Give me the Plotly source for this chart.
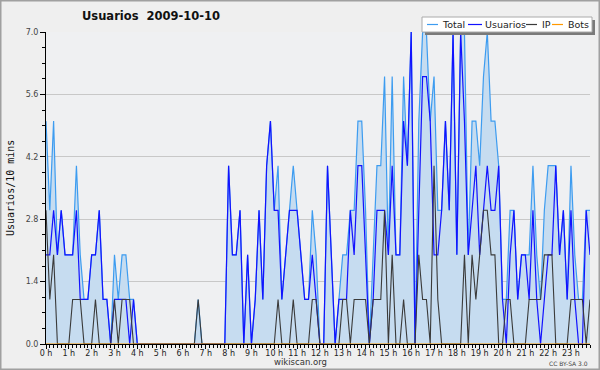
import plotly.graph_objects as go

# ---- data (users per 10 minutes, 2009-10-10) ----
total = [5,3,5,2,3,2,2,2,4,2,1,1,2,2,3,1,1,0,2,1,2,2,1,1,0,
         0,0,0,0,0,0,0,0,0,0,0,0,0,0,0,1,0,0,0,0,0,0,0,
         4,2,2,3,0,2,0,1,3,1,4,5,3,4,1,2,3,4,3,2,1,1,3,2,
         0,0,4,2,0,1,2,2,3,3,5,5,3,0,2,4,4,6,2,6,2,2,6,4,
         7,0,5,7,7,5,6,3,3,5,3,7,2,7,7,2,5,5,4,6,7,5,5,4,
         1,1,3,3,1,2,2,2,4,2,1,3,4,4,4,2,3,1,4,2,1,1,3,3]
usuarios = [2,2,3,2,3,2,2,2,3,1,1,1,2,2,3,1,1,0,1,1,1,1,0,1,0,
            0,0,0,0,0,0,0,0,0,0,0,0,0,0,0,0,0,0,0,0,0,0,0,
            4,2,2,3,0,2,0,1,3,1,4,5,3,3,1,2,3,3,3,2,1,1,2,1,
            0,0,4,2,0,1,1,1,3,2,4,4,2,0,1,3,3,3,2,4,2,2,5,4,
            7,0,3,6,6,5,2,2,3,5,3,7,2,7,5,2,3,4,2,3,4,3,3,4,
            1,0,2,3,1,2,2,1,3,1,0,1,2,2,4,2,3,1,3,1,0,0,3,2]
ip = [3,1,2,0,0,0,0,1,1,1,0,0,0,1,0,0,0,0,1,0,1,1,1,0,0,
      0,0,0,0,0,0,0,0,0,0,0,0,0,0,0,1,0,0,0,0,0,0,0,
      0,0,0,0,0,0,0,0,0,0,0,0,0,1,0,0,0,1,0,0,0,0,1,1,
      0,0,0,0,0,0,1,1,0,1,1,1,1,0,1,1,1,3,0,2,0,0,1,0,
      0,0,2,1,1,0,4,1,0,0,0,0,0,0,2,0,2,1,2,3,3,2,2,0,
      0,1,1,0,0,0,0,1,1,1,1,2,2,2,0,0,0,0,1,1,1,1,0,1]
bots = [0] * 144
hour_labels = ["0 h","1 h","2 h","3 h","4 h","5 h","6 h","7 h","8 h","9 h","10 h","11 h",
               "12 h","13 h","14 h","15 h","16 h","17 h","18 h","19 h","20 h","21 h","22 h","23 h"]
y_ticks = [0.0, 1.4, 2.8, 4.2, 5.6, 7.0]

x = list(range(len(total)))
hour_pos = [i * 6 for i in range(len(hour_labels))]

# ---- geometry helpers (pixel -> paper) ----
L, R, T, B = 46, 10, 32, 26
W, H = 600, 370
PW, PH = W - L - R, H - T - B
def px(v):
    return (v - L) / PW
def py(v):
    return (H - B - v) / PH

fig = go.Figure()
fig.add_trace(go.Scatter(x=x, y=total, name="Total", mode="lines",
                         line=dict(color="#3d9cf0", width=1.2),
                         fill="tozeroy", fillcolor="#c6dcf0"))
fig.add_trace(go.Scatter(x=x, y=usuarios, name="Usuarios", mode="lines",
                         line=dict(color="#1212ff", width=1.2)))
fig.add_trace(go.Scatter(x=x, y=ip, name="IP", mode="lines",
                         line=dict(color="#3a3a3a", width=1.1)))
fig.add_trace(go.Scatter(x=x, y=bots, name="Bots", mode="lines",
                         line=dict(color="#ff9900", width=1.1)))

fig.update_layout(
    width=W, height=H,
    margin=dict(l=L, r=R, t=T, b=B),
    paper_bgcolor="#efefef",
    plot_bgcolor="#eff0f2",
    showlegend=False,
    xaxis=dict(range=[0, 143], tickvals=hour_pos, ticktext=hour_labels,
               ticks="outside", ticklen=4, tickcolor="#000", tickwidth=1,
               minor=dict(dtick=1, tick0=0, ticks="outside", ticklen=3, tickcolor="#000"),
               showgrid=False, zeroline=False, showline=True, linecolor="#000", linewidth=1,
               tickfont=dict(family="DejaVu Sans", size=8, color="#222"),
               ticklabelstandoff=-3),
    yaxis=dict(range=[0, 7], tickvals=y_ticks, ticktext=[f"{v:.1f}" for v in y_ticks],
               ticks="outside", ticklen=5, tickcolor="#000",
               minor=dict(dtick=0.35, tick0=0, ticks="outside", ticklen=3, tickcolor="#000"),
               showgrid=True, gridcolor="#c8c8c8", gridwidth=1,
               zeroline=False, showline=True, linecolor="#000", linewidth=1,
               tickfont=dict(family="DejaVu Sans", size=8, color="#444")),
)

shapes = []
annotations = []
# outer frame
shapes.append(dict(type="rect", xref="paper", yref="paper",
                   x0=px(0.5), x1=px(W - 0.5), y0=py(H - 0.5), y1=py(0.5),
                   line=dict(color="#a0a0a0", width=2), fillcolor="rgba(0,0,0,0)", layer="above"))
# legend shadow and box
shapes.append(dict(type="rect", xref="paper", yref="paper",
                   x0=px(425), x1=px(595), y0=py(35), y1=py(20),
                   line=dict(width=0), fillcolor="#7a7a7a", layer="above"))
shapes.append(dict(type="rect", xref="paper", yref="paper",
                   x0=px(422), x1=px(592), y0=py(32), y1=py(17),
                   line=dict(color="#aaaaaa", width=1), fillcolor="#ffffff", layer="above"))
legend_items = [("Total", "#3d9cf0", 427, 438, 441),
                ("Usuarios", "#1212ff", 468, 482, 484),
                ("IP", "#3a3a3a", 526, 537, 541),
                ("Bots", "#ff9900", 552, 563, 567)]
for name, col, lx0, lx1, tx in legend_items:
    shapes.append(dict(type="line", xref="paper", yref="paper",
                       x0=px(lx0), x1=px(lx1), y0=py(24.5), y1=py(24.5),
                       line=dict(color=col, width=1.2), layer="above"))
    annotations.append(dict(xref="paper", yref="paper", x=px(tx), y=py(24.5),
                            xanchor="left", yanchor="middle", showarrow=False,
                            text=name, borderpad=0,
                            font=dict(family="DejaVu Sans", size=9.5, color="#222")))

# title
annotations.append(dict(xref="paper", yref="paper", x=px(151), y=py(16),
                        xanchor="center", yanchor="middle", showarrow=False,
                        text="<b>Usuarios\u00a0\u00a02009-10-10</b>",
                        font=dict(family="DejaVu Sans", size=11.5, color="#111")))
# y axis title
annotations.append(dict(xref="paper", yref="paper", x=px(10), y=py(188),
                        xanchor="center", yanchor="middle", showarrow=False,
                        text="Usuarios/10 mins", textangle=-90,
                        font=dict(family="DejaVu Sans Mono", size=10, color="#111")))
# footer
annotations.append(dict(xref="paper", yref="paper", x=px(300), y=py(362),
                        xanchor="center", yanchor="middle", showarrow=False,
                        text="wikiscan.org",
                        font=dict(family="DejaVu Sans", size=8.5, color="#333")))
annotations.append(dict(xref="paper", yref="paper", x=px(590), y=py(363),
                        xanchor="right", yanchor="middle", showarrow=False,
                        text="CC BY-SA 3.0",
                        font=dict(family="DejaVu Sans", size=6, color="#444")))

fig.update_layout(shapes=shapes, annotations=annotations)
fig.write_html("out.html", config={"displayModeBar": False},
               post_script="document.body.style.margin='0';document.body.style.padding='0';")
